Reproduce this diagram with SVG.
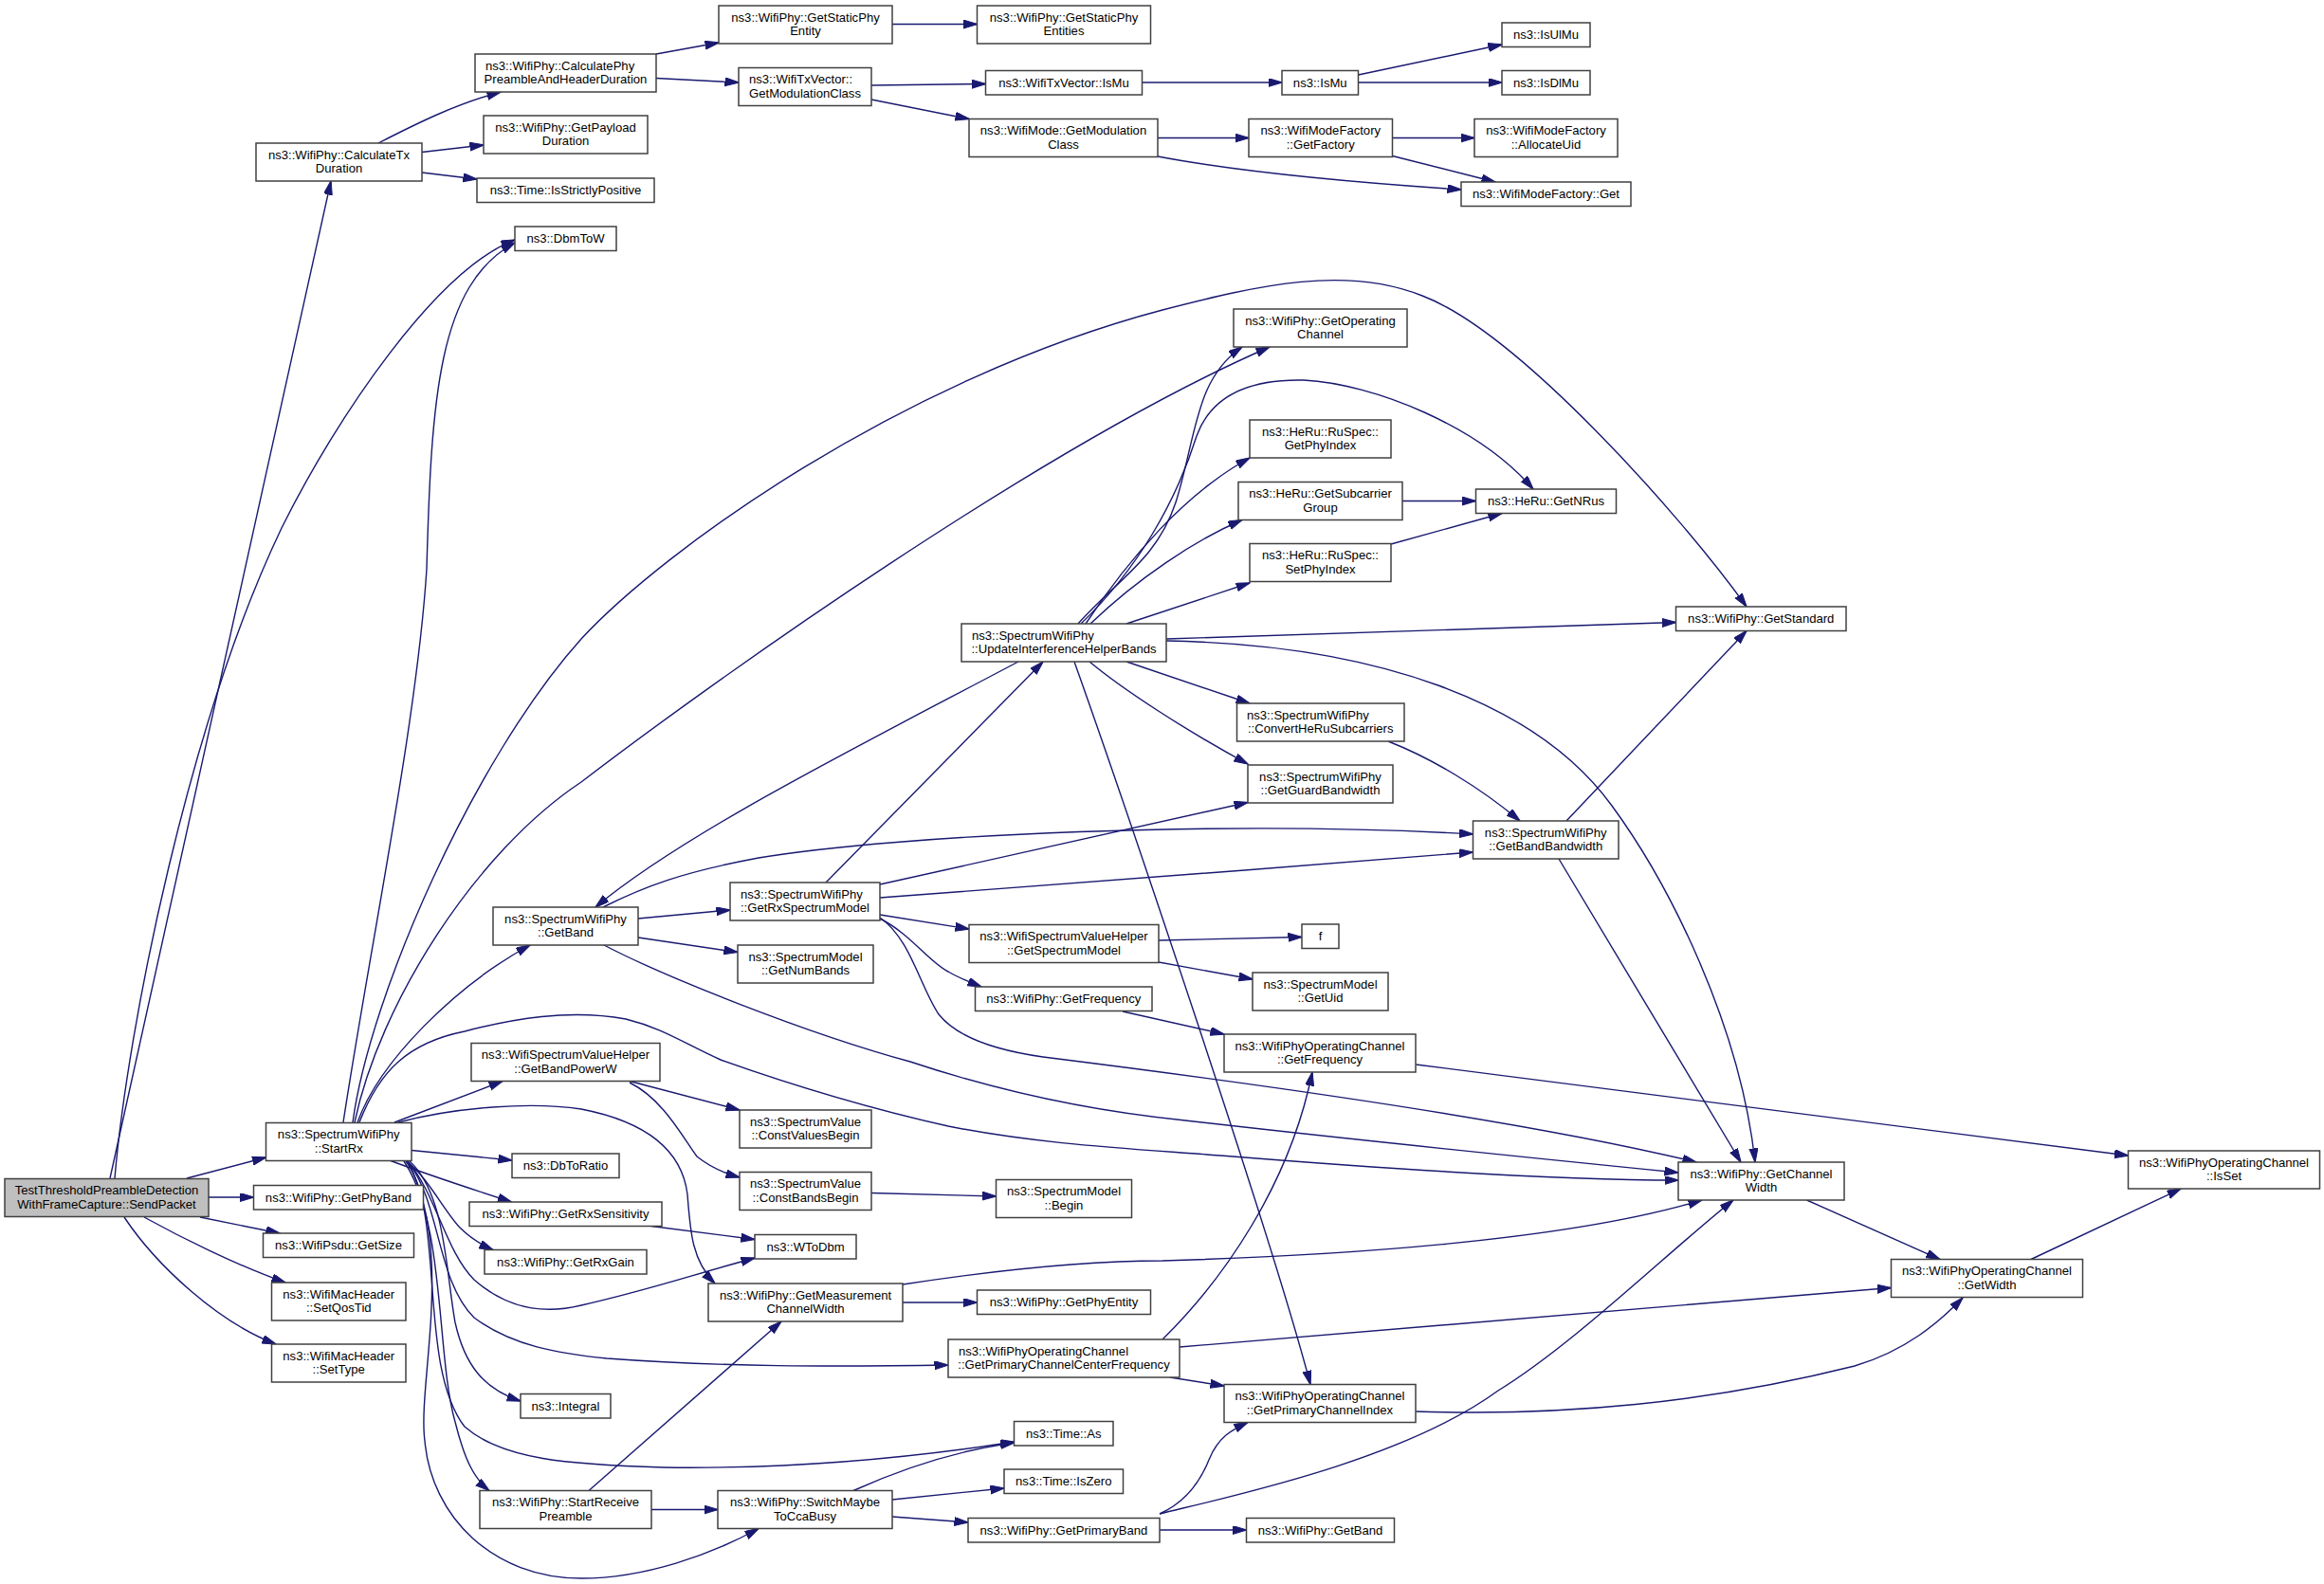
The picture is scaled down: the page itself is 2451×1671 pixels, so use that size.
<svg xmlns="http://www.w3.org/2000/svg" width="2451" height="1671" viewBox="0 0 2451 1671">
<defs>
<style>
.node rect{fill:#ffffff;stroke:#404040;stroke-width:1.5}
.node text{font-family:"Liberation Sans",Arial,Helvetica,sans-serif;font-size:13.1px;fill:#000;text-anchor:middle}
.node text.l{text-anchor:start}
.edges path{fill:none;stroke:#191970;stroke-width:1.4;marker-end:url(#arr)}
</style>
<marker id="arr" markerUnits="userSpaceOnUse" markerWidth="16" markerHeight="10" refX="14.5" refY="4.5" orient="auto">
<path d="M0,0 L15,4.5 L0,9 Z" fill="#191970" stroke="#191970" stroke-width="1"/>
</marker>
</defs>
<rect x="0" y="0" width="2451" height="1671" fill="#ffffff"/>
<g class="edges" id="edges">
<path d="M116,1243 L349,191"/>
<path d="M121,1243 C135,1080 200,760 297,557 C355,440 460,285 543,253"/>
<path d="M362,1184 C390,1000 440,760 450,600 C455,420 462,300 543,256"/>
<path d="M197,1243 L280.5,1221"/>
<path d="M220,1263 L267.5,1263"/>
<path d="M211,1284 L295,1301"/>
<path d="M152,1284 C190,1305 250,1335 301,1353"/>
<path d="M131,1284 C165,1335 230,1395 291,1418"/>
<path d="M399,151 C440,130 480,110 528,97"/>
<path d="M445,160.5 L510,153"/>
<path d="M445,182 L503,189"/>
<path d="M692,57 L758,45"/>
<path d="M692,82.5 L779,87"/>
<path d="M941,25.5 L1030.5,25.5"/>
<path d="M919,90 L1039.5,88.5"/>
<path d="M919,105 L1022,125.5"/>
<path d="M1204.5,87 L1352,87"/>
<path d="M1432.5,79 L1584,47"/>
<path d="M1432.5,87 L1584,87"/>
<path d="M1221,145.5 L1317,145.5"/>
<path d="M1221,165 C1300,180 1420,192 1541,200"/>
<path d="M1468.5,145.5 L1555,145.5"/>
<path d="M1468.5,164.5 L1577,192"/>
<path d="M372,1184 C390,1050 500,800 613,674 C700,580 950,400 1226,327 C1330,300 1420,280 1500,312 C1600,350 1770,540 1842,640"/>
<path d="M374,1184 C400,1060 500,900 613,825 C750,720 1100,470 1339,366"/>
<path d="M377,1184 C400,1120 480,1040 559,997"/>
<path d="M416,1184 L530,1140.5"/>
<path d="M420,1184 C480,1168 560,1162 613,1170 C690,1185 720,1220 725,1260 C728,1300 730,1330 754,1354"/>
<path d="M379,1184 C400,1130 430,1100 490,1088 C540,1075 600,1064 660,1075 C700,1085 720,1100 760,1118 C850,1150 920,1170 1000,1188 C1100,1208 1200,1212 1300,1220 C1500,1236 1650,1245 1770,1245"/>
<path d="M434,1213.5 L540,1224"/>
<path d="M412,1224.5 C440,1235 490,1252 539.5,1268"/>
<path d="M428,1224.5 C450,1240 470,1280 485,1295 C495,1305 505,1312 520,1318.5"/>
<path d="M430,1225 C460,1260 470,1320 500,1350 C540,1385 580,1385 613,1377 C680,1362 720,1348 796,1327"/>
<path d="M432,1225 C470,1260 470,1340 480,1395 C490,1440 510,1465 549,1478"/>
<path d="M430,1225 C465,1270 460,1350 500,1390 C540,1420 590,1428 640,1433 C760,1442 880,1442 1000,1440"/>
<path d="M428,1225 C470,1280 440,1440 490,1505 C530,1540 600,1545 700,1548 C850,1550 980,1535 1069.5,1521"/>
<path d="M426,1225 C470,1290 460,1430 480,1500 C490,1540 500,1560 516,1572.5"/>
<path d="M430,1225 C480,1320 440,1460 448,1520 C455,1600 520,1665 613,1665 C680,1665 750,1640 800,1612.5"/>
<path d="M664,1140.5 L780,1171"/>
<path d="M664,1142 C700,1160 720,1200 735,1220 C750,1232 765,1238 780,1242"/>
<path d="M919,1258.5 L1050.5,1262"/>
<path d="M687,1293.5 L796,1307.5"/>
<path d="M952,1374 L1030.5,1374"/>
<path d="M952,1355 C1050,1340 1150,1330 1226,1330 C1400,1325 1650,1310 1795,1266"/>
<path d="M621,1572.5 L824,1394"/>
<path d="M687,1592.5 L757,1592.5"/>
<path d="M900,1572.5 C950,1550 1010,1530 1069.5,1522"/>
<path d="M941,1582 L1059,1570"/>
<path d="M941,1600 L1021,1606"/>
<path d="M1223,1614 L1314.5,1614"/>
<path d="M1223,1597 C1250,1585 1265,1565 1275,1540 C1285,1515 1300,1508 1316,1500.5"/>
<path d="M1223,1597 C1300,1578 1480,1540 1580,1467 C1660,1418 1760,1320 1828,1266"/>
<path d="M1226,1413 C1290,1350 1360,1250 1384,1131"/>
<path d="M1234,1453 L1291,1462"/>
<path d="M1244,1421 L1994.5,1358.5"/>
<path d="M1493.5,1489 C1650,1494 1800,1480 1956,1441 C2010,1425 2045,1395 2070,1369"/>
<path d="M1905.5,1266 L2046,1328.5"/>
<path d="M2142,1328.5 L2300,1254"/>
<path d="M1493.5,1123 L2244.5,1219"/>
<path d="M1184,1067 L1291,1091"/>
<path d="M1222,992 L1373,988.5"/>
<path d="M1222,1015 L1321,1033"/>
<path d="M928,965 L1022,980"/>
<path d="M928,969 C960,985 980,1015 1000,1025 C1012,1032 1025,1037 1035,1041"/>
<path d="M928,933 L1316,846.5"/>
<path d="M928,947 C1100,935 1350,915 1553.5,899"/>
<path d="M871,931 L1100,698"/>
<path d="M928,968 C960,990 970,1040 990,1070 C1010,1095 1050,1108 1100,1115 C1300,1140 1600,1180 1789,1226"/>
<path d="M673,969 L770,960"/>
<path d="M673,989 L778,1004.5"/>
<path d="M636,957 C680,935 720,920 800,905 C950,880 1300,865 1553.5,880"/>
<path d="M636,996.5 C700,1030 850,1090 960,1120 C1050,1150 1150,1172 1250,1182 C1450,1205 1650,1225 1770,1237"/>
<path d="M1074,698 C900,790 720,880 628,957"/>
<path d="M1137,658 C1180,610 1220,590 1240,530 C1262,460 1260,400 1310,366"/>
<path d="M1140,658 C1200,600 1240,530 1262,460 C1280,410 1330,400 1375,401 C1450,405 1560,450 1617,516"/>
<path d="M1145,658 C1190,590 1250,520 1318,483"/>
<path d="M1150,658 C1200,610 1260,570 1310,548.5"/>
<path d="M1188,658 L1318,615"/>
<path d="M1230,674 L1767.5,656.5"/>
<path d="M1230,676 C1450,680 1620,740 1700,850 C1760,932 1835,1080 1851,1226"/>
<path d="M1188,698 L1318,742"/>
<path d="M1149,698 C1185,728 1250,770 1316,806"/>
<path d="M1133,698 C1180,830 1340,1300 1382,1460.5"/>
<path d="M1479,528.5 L1556.5,528.5"/>
<path d="M1467,574 L1584,541.5"/>
<path d="M1464,782 C1510,800 1560,830 1603,866"/>
<path d="M1652,866 L1842,665.5"/>
<path d="M1644,906 L1836,1226"/>
</g>
<g id="n_sendpacket" class="node"><rect x="5" y="1243.5" width="215" height="40" style="fill:#bfbfbf"/><text x="112.5" y="1260.3">TestThresholdPreambleDetection</text><text x="112.5" y="1274.5">WithFrameCapture::SendPacket</text></g>
<g id="n_calctx" class="node"><rect x="270" y="151" width="175" height="40"/><text x="357.5" y="167.8">ns3::WifiPhy::CalculateTx</text><text x="357.5" y="182">Duration</text></g>
<g id="n_startrx" class="node"><rect x="280.5" y="1184.5" width="153.5" height="40"/><text x="357.25" y="1201.3">ns3::SpectrumWifiPhy</text><text x="357.25" y="1215.5">::StartRx</text></g>
<g id="n_getphyband" class="node"><rect x="267.5" y="1250.5" width="179" height="25.5"/><text x="357" y="1267.5">ns3::WifiPhy::GetPhyBand</text></g>
<g id="n_getsize" class="node"><rect x="277.5" y="1301" width="159" height="25.5"/><text x="357" y="1318">ns3::WifiPsdu::GetSize</text></g>
<g id="n_setqostid" class="node"><rect x="286.5" y="1353" width="141.5" height="40"/><text x="357.25" y="1369.8">ns3::WifiMacHeader</text><text x="357.25" y="1384">::SetQosTid</text></g>
<g id="n_settype" class="node"><rect x="286.5" y="1418" width="141.5" height="40"/><text x="357.25" y="1434.8">ns3::WifiMacHeader</text><text x="357.25" y="1449">::SetType</text></g>
<g id="n_calcphy" class="node"><rect x="501" y="57" width="191" height="40"/><text class="l" x="512" y="73.8">ns3::WifiPhy::CalculatePhy</text><text x="596.5" y="88">PreambleAndHeaderDuration</text></g>
<g id="n_getpayload" class="node"><rect x="510" y="122" width="173" height="40"/><text x="596.5" y="138.8">ns3::WifiPhy::GetPayload</text><text x="596.5" y="153">Duration</text></g>
<g id="n_isstrictlypositive" class="node"><rect x="503" y="188" width="187" height="25.5"/><text x="596.5" y="205">ns3::Time::IsStrictlyPositive</text></g>
<g id="n_dbmtow" class="node"><rect x="543" y="239" width="107" height="25.5"/><text x="596.5" y="256">ns3::DbmToW</text></g>
<g id="n_getband_swp" class="node"><rect x="520" y="957" width="153" height="40"/><text x="596.5" y="973.8">ns3::SpectrumWifiPhy</text><text x="596.5" y="988">::GetBand</text></g>
<g id="n_getbandpowerw" class="node"><rect x="497" y="1100.5" width="199" height="40"/><text x="596.5" y="1117.3">ns3::WifiSpectrumValueHelper</text><text x="596.5" y="1131.5">::GetBandPowerW</text></g>
<g id="n_dbtoratio" class="node"><rect x="540" y="1217" width="113" height="25.5"/><text x="596.5" y="1234">ns3::DbToRatio</text></g>
<g id="n_getrxsensitivity" class="node"><rect x="495" y="1268" width="203" height="25.5"/><text x="596.5" y="1285">ns3::WifiPhy::GetRxSensitivity</text></g>
<g id="n_getrxgain" class="node"><rect x="511" y="1318.5" width="171" height="25.5"/><text x="596.5" y="1335.5">ns3::WifiPhy::GetRxGain</text></g>
<g id="n_integral" class="node"><rect x="549" y="1470.5" width="95" height="25.5"/><text x="596.5" y="1487.5">ns3::Integral</text></g>
<g id="n_startreceivepreamble" class="node"><rect x="506" y="1572.5" width="181" height="40"/><text x="596.5" y="1589.3">ns3::WifiPhy::StartReceive</text><text x="596.5" y="1603.5">Preamble</text></g>
<g id="n_getstaticphyentity" class="node"><rect x="758" y="6" width="183" height="40"/><text x="849.5" y="22.8">ns3::WifiPhy::GetStaticPhy</text><text x="849.5" y="37">Entity</text></g>
<g id="n_txv_getmodulationclass" class="node"><rect x="779" y="71.5" width="140" height="40"/><text class="l" x="790" y="88.3">ns3::WifiTxVector::</text><text x="849" y="102.5">GetModulationClass</text></g>
<g id="n_getrxspectrummodel" class="node"><rect x="770" y="931" width="158" height="40"/><text class="l" x="781" y="947.8">ns3::SpectrumWifiPhy</text><text x="849" y="962">::GetRxSpectrumModel</text></g>
<g id="n_getnumbands" class="node"><rect x="778" y="997" width="143" height="40"/><text x="849.5" y="1013.8">ns3::SpectrumModel</text><text x="849.5" y="1028">::GetNumBands</text></g>
<g id="n_constvaluesbegin" class="node"><rect x="780" y="1171" width="139" height="40"/><text x="849.5" y="1187.8">ns3::SpectrumValue</text><text x="849.5" y="1202">::ConstValuesBegin</text></g>
<g id="n_constbandsbegin" class="node"><rect x="780" y="1236.5" width="139" height="40"/><text x="849.5" y="1253.3">ns3::SpectrumValue</text><text x="849.5" y="1267.5">::ConstBandsBegin</text></g>
<g id="n_wtodbm" class="node"><rect x="796" y="1302.5" width="107" height="25.5"/><text x="849.5" y="1319.5">ns3::WToDbm</text></g>
<g id="n_getmeasurementchannelwidth" class="node"><rect x="747" y="1354" width="205" height="40"/><text x="849.5" y="1370.8">ns3::WifiPhy::GetMeasurement</text><text x="849.5" y="1385">ChannelWidth</text></g>
<g id="n_switchmaybetoccabusy" class="node"><rect x="757" y="1572.5" width="184" height="40"/><text x="849" y="1589.3">ns3::WifiPhy::SwitchMaybe</text><text x="849" y="1603.5">ToCcaBusy</text></g>
<g id="n_getstaticphyentities" class="node"><rect x="1030.5" y="6" width="183" height="40"/><text x="1122" y="22.8">ns3::WifiPhy::GetStaticPhy</text><text x="1122" y="37">Entities</text></g>
<g id="n_txv_ismu" class="node"><rect x="1039.5" y="74.5" width="165" height="25.5"/><text x="1122" y="91.5">ns3::WifiTxVector::IsMu</text></g>
<g id="n_mode_getmodulationclass" class="node"><rect x="1022" y="125.5" width="199" height="40"/><text x="1121.5" y="142.3">ns3::WifiMode::GetModulation</text><text x="1121.5" y="156.5">Class</text></g>
<g id="n_updateinterferencehelperbands" class="node"><rect x="1014" y="658" width="216" height="40"/><text class="l" x="1025" y="674.8">ns3::SpectrumWifiPhy</text><text x="1122" y="689">::UpdateInterferenceHelperBands</text></g>
<g id="n_getspectrummodel" class="node"><rect x="1022" y="975.5" width="200" height="40"/><text x="1122" y="992.3">ns3::WifiSpectrumValueHelper</text><text x="1122" y="1006.5">::GetSpectrumModel</text></g>
<g id="n_getfrequency" class="node"><rect x="1028.5" y="1041" width="186.5" height="25.5"/><text x="1121.75" y="1058">ns3::WifiPhy::GetFrequency</text></g>
<g id="n_spectrummodel_begin" class="node"><rect x="1050.5" y="1244.5" width="143" height="40"/><text x="1122" y="1261.3">ns3::SpectrumModel</text><text x="1122" y="1275.5">::Begin</text></g>
<g id="n_getphyentity" class="node"><rect x="1030.5" y="1361" width="183" height="25.5"/><text x="1122" y="1378">ns3::WifiPhy::GetPhyEntity</text></g>
<g id="n_getprimarychannelcenterfrequency" class="node"><rect x="1000" y="1413" width="244" height="40"/><text class="l" x="1011" y="1429.8">ns3::WifiPhyOperatingChannel</text><text x="1122" y="1444">::GetPrimaryChannelCenterFrequency</text></g>
<g id="n_time_as" class="node"><rect x="1069.5" y="1499.5" width="104.5" height="25.5"/><text x="1121.75" y="1516.5">ns3::Time::As</text></g>
<g id="n_time_iszero" class="node"><rect x="1059" y="1550" width="125.5" height="25.5"/><text x="1121.75" y="1567">ns3::Time::IsZero</text></g>
<g id="n_getprimaryband" class="node"><rect x="1021" y="1601.5" width="202" height="25.5"/><text x="1122" y="1618.5">ns3::WifiPhy::GetPrimaryBand</text></g>
<g id="n_ismu" class="node"><rect x="1352" y="74.5" width="80.5" height="25.5"/><text x="1392.25" y="91.5">ns3::IsMu</text></g>
<g id="n_getfactory" class="node"><rect x="1317" y="125.5" width="151.5" height="40"/><text x="1392.75" y="142.3">ns3::WifiModeFactory</text><text x="1392.75" y="156.5">::GetFactory</text></g>
<g id="n_getoperatingchannel" class="node"><rect x="1301" y="326" width="183" height="40"/><text x="1392.5" y="342.8">ns3::WifiPhy::GetOperating</text><text x="1392.5" y="357">Channel</text></g>
<g id="n_getphyindex" class="node"><rect x="1318" y="443" width="149" height="40"/><text x="1392.5" y="459.8">ns3::HeRu::RuSpec::</text><text x="1392.5" y="474">GetPhyIndex</text></g>
<g id="n_getsubcarriergroup" class="node"><rect x="1306" y="508.5" width="173" height="40"/><text x="1392.5" y="525.3">ns3::HeRu::GetSubcarrier</text><text x="1392.5" y="539.5">Group</text></g>
<g id="n_setphyindex" class="node"><rect x="1318" y="573.5" width="149" height="40"/><text x="1392.5" y="590.3">ns3::HeRu::RuSpec::</text><text x="1392.5" y="604.5">SetPhyIndex</text></g>
<g id="n_convertherusubcarriers" class="node"><rect x="1304.5" y="742" width="176.5" height="40"/><text class="l" x="1315" y="758.8">ns3::SpectrumWifiPhy</text><text x="1392.75" y="773">::ConvertHeRuSubcarriers</text></g>
<g id="n_getguardbandwidth" class="node"><rect x="1316" y="807" width="153" height="40"/><text x="1392.5" y="823.8">ns3::SpectrumWifiPhy</text><text x="1392.5" y="838">::GetGuardBandwidth</text></g>
<g id="n_f" class="node"><rect x="1373" y="975" width="39" height="25.5"/><text x="1392.5" y="992">f</text></g>
<g id="n_getuid" class="node"><rect x="1321" y="1026" width="143" height="40"/><text x="1392.5" y="1042.8">ns3::SpectrumModel</text><text x="1392.5" y="1057">::GetUid</text></g>
<g id="n_wpoc_getfrequency" class="node"><rect x="1291" y="1091" width="202" height="40"/><text x="1392" y="1107.8">ns3::WifiPhyOperatingChannel</text><text x="1392" y="1122">::GetFrequency</text></g>
<g id="n_getprimarychannelindex" class="node"><rect x="1291" y="1460.5" width="202" height="40"/><text x="1392" y="1477.3">ns3::WifiPhyOperatingChannel</text><text x="1392" y="1491.5">::GetPrimaryChannelIndex</text></g>
<g id="n_wifiphy_getband" class="node"><rect x="1314.5" y="1601.5" width="156" height="25.5"/><text x="1392.5" y="1618.5">ns3::WifiPhy::GetBand</text></g>
<g id="n_isulmu" class="node"><rect x="1584" y="24" width="93" height="25.5"/><text x="1630.5" y="41">ns3::IsUlMu</text></g>
<g id="n_isdlmu" class="node"><rect x="1584" y="74.5" width="93" height="25.5"/><text x="1630.5" y="91.5">ns3::IsDlMu</text></g>
<g id="n_allocateuid" class="node"><rect x="1555" y="125.5" width="151" height="40"/><text x="1630.5" y="142.3">ns3::WifiModeFactory</text><text x="1630.5" y="156.5">::AllocateUid</text></g>
<g id="n_wifimodefactory_get" class="node"><rect x="1541" y="192" width="179" height="25.5"/><text x="1630.5" y="209">ns3::WifiModeFactory::Get</text></g>
<g id="n_getnrus" class="node"><rect x="1556.5" y="516" width="148" height="25.5"/><text x="1630.5" y="533">ns3::HeRu::GetNRus</text></g>
<g id="n_getbandbandwidth" class="node"><rect x="1553.5" y="866" width="153.5" height="40"/><text x="1630.25" y="882.8">ns3::SpectrumWifiPhy</text><text x="1630.25" y="897">::GetBandBandwidth</text></g>
<g id="n_getstandard" class="node"><rect x="1767.5" y="640" width="179.5" height="25.5"/><text x="1857.25" y="657">ns3::WifiPhy::GetStandard</text></g>
<g id="n_getchannelwidth" class="node"><rect x="1770" y="1226" width="175" height="40"/><text x="1857.5" y="1242.8">ns3::WifiPhy::GetChannel</text><text x="1857.5" y="1257">Width</text></g>
<g id="n_getwidth" class="node"><rect x="1994.5" y="1328.5" width="202" height="40"/><text x="2095.5" y="1345.3">ns3::WifiPhyOperatingChannel</text><text x="2095.5" y="1359.5">::GetWidth</text></g>
<g id="n_isset" class="node"><rect x="2244.5" y="1214" width="202" height="40"/><text x="2345.5" y="1230.8">ns3::WifiPhyOperatingChannel</text><text x="2345.5" y="1245">::IsSet</text></g>
</svg>
